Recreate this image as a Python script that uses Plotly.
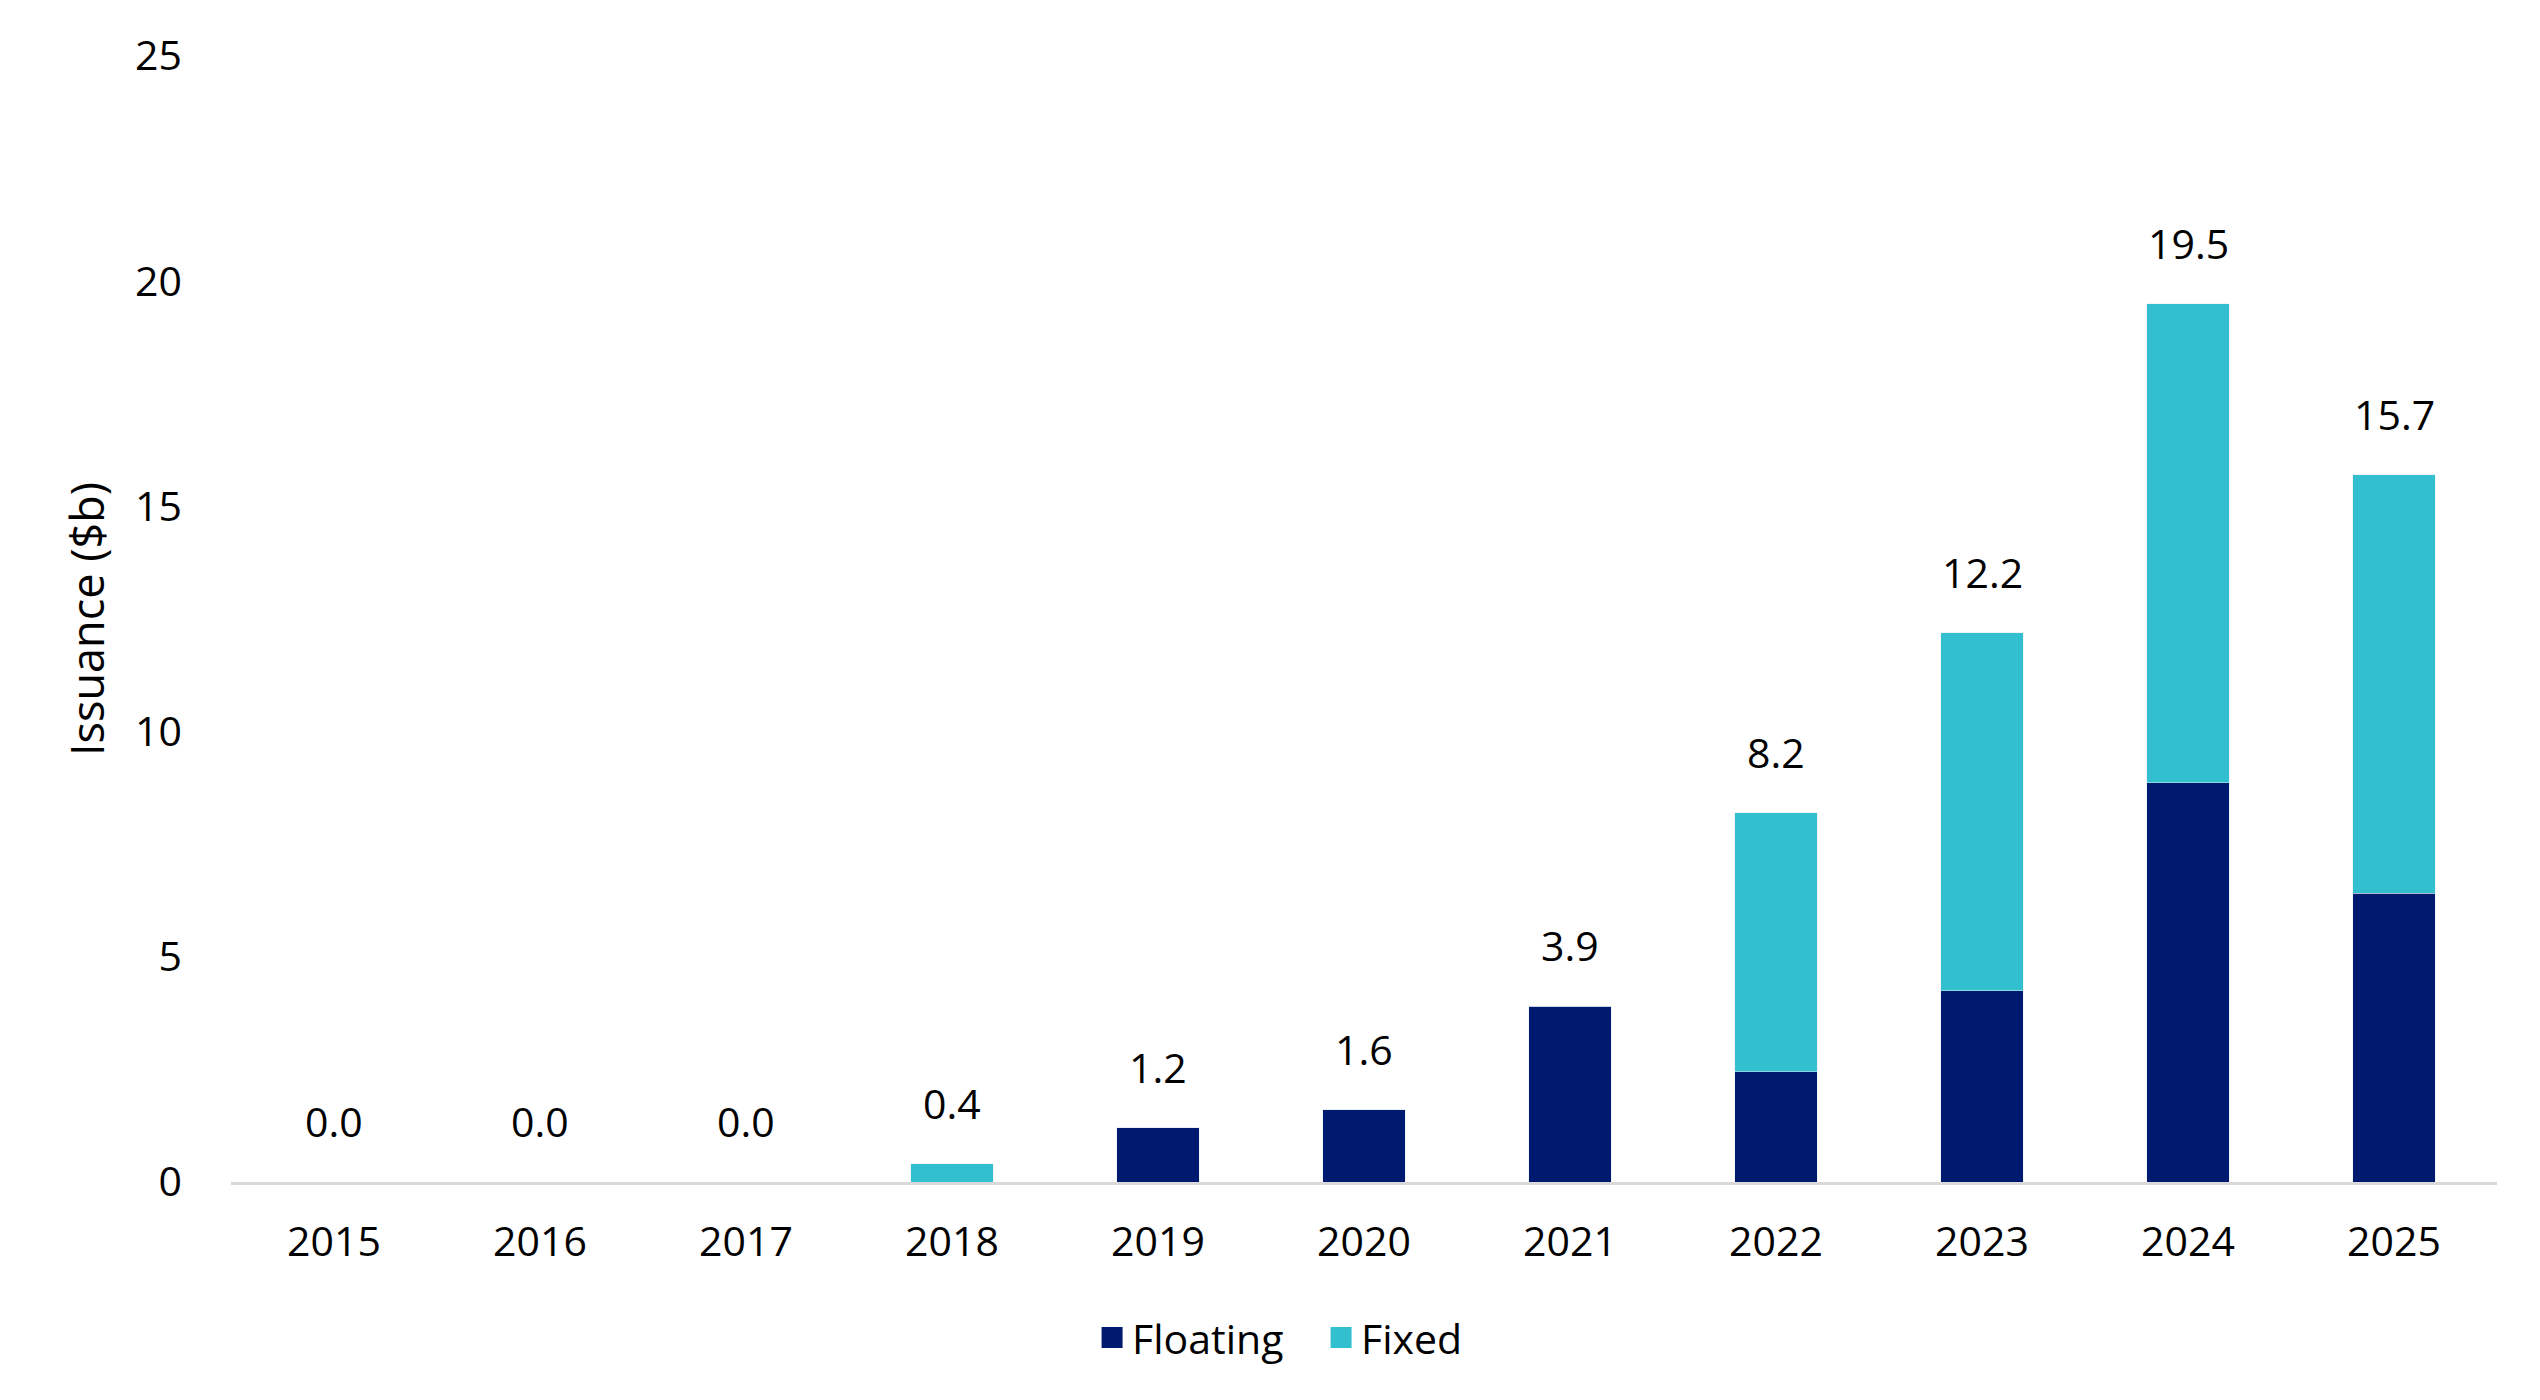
import plotly.graph_objects as go

years = ["2015", "2016", "2017", "2018", "2019", "2020", "2021", "2022", "2023", "2024", "2025"]
floating = [0.0, 0.0, 0.0, 0.0, 1.2, 1.6, 3.9, 2.45, 4.25, 8.86, 6.41]
fixed = [0.0, 0.0, 0.0, 0.4, 0.0, 0.0, 0.0, 5.75, 7.95, 10.64, 9.29]
totals = [0.0, 0.0, 0.0, 0.4, 1.2, 1.6, 3.9, 8.2, 12.2, 19.5, 15.7]
y_ticks = [0, 5, 10, 15, 20, 25]

NAVY = "#001A70"
CYAN = "#32BFD0"
FONT = "Open Sans"
FS = 41

fig = go.Figure()
fig.add_trace(go.Bar(x=years, y=floating, name="Floating", marker_color=NAVY, showlegend=False))
fig.add_trace(go.Bar(x=years, y=fixed, name="Fixed", marker_color=CYAN, showlegend=False))

# legend proxies (larger square swatches)
for nm, col in [("Floating", NAVY), ("Fixed", CYAN)]:
    fig.add_trace(go.Scatter(x=[years[0]], y=[None], mode="markers", name=nm,
                             marker=dict(symbol="square", size=16, color=col,
                                         line=dict(color=col, width=5))))

# total labels: annotation x given as the category index
for i, tot in enumerate(totals):
    fig.add_annotation(x=i, y=tot, xref="x", yref="y", text=f"{tot:.1f}", showarrow=False,
                       yshift=61, yanchor="middle",
                       font=dict(family=FONT, size=FS, color="#000000"))

fig.update_layout(
    barmode="stack",
    bargap=0.6,
    width=2540, height=1400,
    margin=dict(l=223, r=51, t=48, b=226),
    paper_bgcolor="white", plot_bgcolor="white",
    font=dict(family=FONT, size=FS, color="#000000"),
    legend=dict(orientation="h", x=0.38, y=-0.1385, xanchor="left", yanchor="middle",
                traceorder="normal", entrywidth=184, entrywidthmode="pixels",
                font=dict(family=FONT, size=FS), itemwidth=30, tracegroupgap=0),
    xaxis=dict(type="category", categoryorder="array", categoryarray=years,
               range=[-0.5, len(years) - 0.5],
               showline=True, linecolor="#D9D9D9", linewidth=3, showgrid=False,
               ticks="", ticklabelstandoff=22, tickfont=dict(size=FS)),
    yaxis=dict(range=[0, 25], tickvals=y_ticks, showgrid=False, zeroline=False,
               showline=False, ticks="", ticklabelstandoff=48, tickfont=dict(size=FS),
               title=dict(text="Issuance ($b)", font=dict(size=45), standoff=16)),
)

fig.write_html("out.html")
